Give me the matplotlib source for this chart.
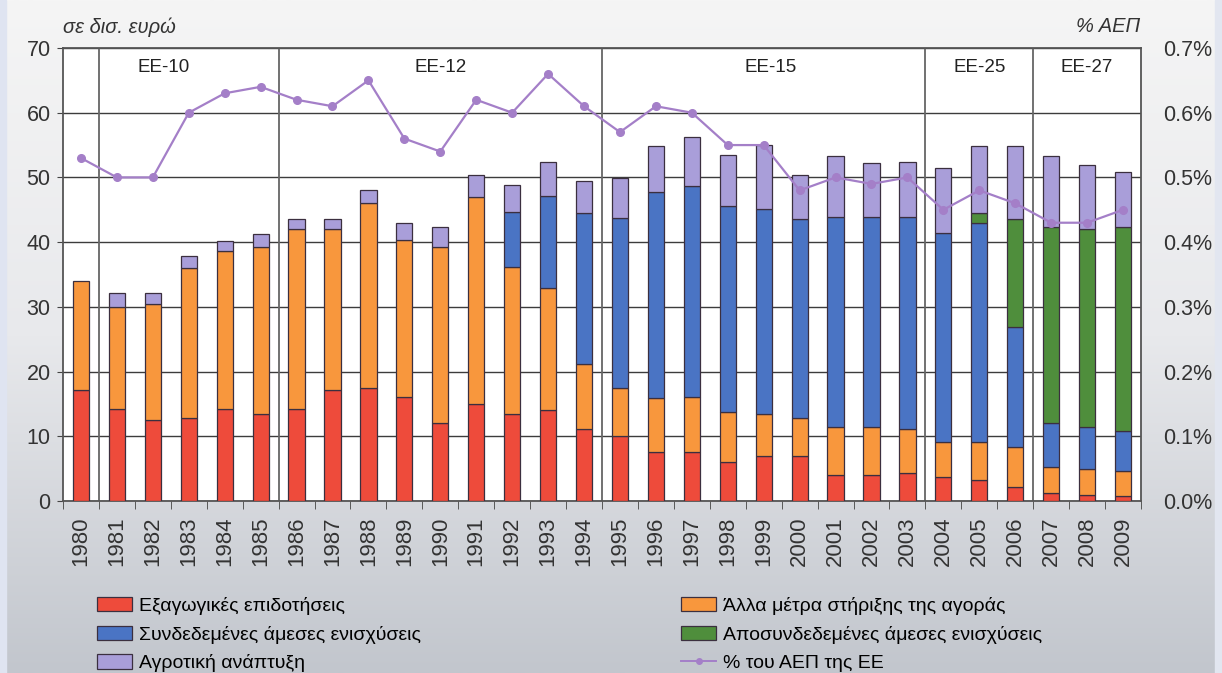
import numpy as np
import matplotlib
matplotlib.use('Agg')
import matplotlib.pyplot as plt
from matplotlib.patches import Patch
from matplotlib.lines import Line2D
from matplotlib.colors import LinearSegmentedColormap

plt.rcParams['font.family'] = ['Liberation Sans', 'DejaVu Sans']

# data (bn euro per segment)
years = list(range(1980, 2010))
export_subsidies = [17.2, 14.2, 12.5, 12.8, 14.2, 13.4, 14.2, 17.2, 17.4, 16.1,
                    12.1, 15.0, 13.5, 14.1, 11.1, 10.0, 7.6, 7.6, 6.1, 7.0,
                    7.0, 4.0, 4.0, 4.4, 3.7, 3.2, 2.2, 1.3, 1.0, 0.7]
other_market = [16.8, 15.8, 18.0, 23.2, 24.5, 25.9, 27.8, 24.8, 28.7, 24.2,
                27.1, 32.0, 22.7, 18.8, 10.1, 7.4, 8.3, 8.5, 7.6, 6.4,
                5.8, 7.5, 7.5, 6.7, 5.4, 5.9, 6.2, 3.9, 4.0, 3.9]
coupled_direct = [0, 0, 0, 0, 0, 0, 0, 0, 0, 0,
                  0, 0, 8.5, 14.2, 23.3, 26.4, 31.8, 32.5, 31.9, 31.7,
                  30.8, 32.4, 32.4, 32.8, 32.3, 33.9, 18.5, 6.9, 6.5, 6.2]
decoupled_direct = [0, 0, 0, 0, 0, 0, 0, 0, 0, 0,
                    0, 0, 0, 0, 0, 0, 0, 0, 0, 0,
                    0, 0, 0, 0, 0, 1.5, 16.7, 30.3, 30.5, 31.5]
rural_dev = [0, 2.1, 1.6, 1.9, 1.5, 1.9, 1.6, 1.6, 2.0, 2.7,
             3.2, 3.4, 4.1, 5.3, 5.0, 6.1, 7.2, 7.7, 7.8, 9.9,
             6.8, 9.4, 8.4, 8.5, 10.1, 10.4, 11.3, 10.9, 9.9, 8.6]
gdp_share = [0.53, 0.50, 0.50, 0.60, 0.63, 0.64, 0.62, 0.61, 0.65, 0.56,
             0.54, 0.62, 0.60, 0.66, 0.61, 0.57, 0.61, 0.60, 0.55, 0.55,
             0.48, 0.50, 0.49, 0.50, 0.45, 0.48, 0.46, 0.43, 0.43, 0.45]

# enlargement periods
periods = ['ΕΕ-10', 'ΕΕ-12', 'ΕΕ-15', 'ΕΕ-25', 'ΕΕ-27']
period_start = [1981, 1986, 1995, 2004, 2007]
label_pos = [2.3, 10.0, 19.2, 25.0, 28.0]

series = [
    (export_subsidies, '#ee4b3b', 'Εξαγωγικές επιδοτήσεις'),
    (other_market, '#f8973d', 'Άλλα μέτρα στήριξης της αγοράς'),
    (coupled_direct, '#4a74c4', 'Συνδεδεμένες άμεσες ενισχύσεις'),
    (decoupled_direct, '#4f8e3c', 'Αποσυνδεδεμένες άμεσες ενισχύσεις'),
    (rural_dev, '#a99ed9', 'Αγροτική ανάπτυξη'),
]
line_color = '#a47fc8'
edge = '#3b2f3f'

fig = plt.figure(figsize=(12.22, 6.73), dpi=100)

# background gradient
bg = fig.add_axes([0, 0, 1, 1], zorder=-10)
cmap = LinearSegmentedColormap.from_list('bg', ['#f5f5f5', '#e8e9ec', '#c2c6cd'])
bg.imshow(np.linspace(0, 1, 256).reshape(-1, 1), aspect='auto', cmap=cmap,
          extent=[0, 1, 0, 1])
bg.axvspan(0, 6 / 1222, color='#dfe4f1')
bg.axvspan(1215 / 1222, 1, color='#e2e6f0')
bg.set_xlim(0, 1)
bg.set_ylim(0, 1)
bg.axis('off')

ax = fig.add_axes([63 / 1222, 1 - 501 / 673, (1141 - 63) / 1222, (501 - 48) / 673])
ax.set_facecolor('white')
x = np.arange(len(years))
bottom = np.zeros(len(years))
for vals, col, lab in series:
    v = np.array(vals, dtype=float)
    m = v > 0
    ax.bar(x[m], v[m], bottom=bottom[m], width=0.45, color=col,
           edgecolor=edge, linewidth=0.9, zorder=3)
    bottom += v

ax.set_xlim(-0.5, len(years) - 0.5)
ax.set_ylim(0, 70)
ax.set_yticks(range(0, 71, 10))
ax.yaxis.grid(True, color='#3c3c3c', linewidth=1.0)
ax.set_axisbelow(True)
for yr in period_start:
    ax.axvline(years.index(yr) - 0.5, color='#666666', linewidth=1.3, zorder=2)
for lab, pos in zip(periods, label_pos):
    ax.text(pos, 67, lab, ha='center', va='center', fontsize=13.5, color='#222222')

ax.set_xticks(x)
ax.set_xticklabels([str(y) for y in years], rotation=90, fontsize=16, color='#333333')
ax.set_xticks(np.arange(-0.5, len(years)), minor=True)
ax.tick_params(axis='x', which='major', length=0, pad=11)
ax.tick_params(axis='x', which='minor', length=6, color='#444444', direction='out')
ax.tick_params(axis='y', length=4, color='#444444', labelsize=15.5, labelcolor='#333333', pad=5)
for s in ax.spines.values():
    s.set_color('#555555')
    s.set_linewidth(1.3)

ax2 = ax.twinx()
ax2.plot(x, gdp_share, color=line_color, linewidth=1.6, marker='o', markersize=5.5,
         zorder=5)
ax2.set_ylim(0, 0.70)
ax2.set_yticks(np.arange(0, 0.71, 0.1))
ax2.set_yticklabels([f'{t:.1f}%' for t in np.arange(0, 0.71, 0.1)])
ax2.tick_params(axis='y', length=0, labelsize=15.5, labelcolor='#333333', pad=16)
for s in ax2.spines.values():
    s.set_visible(False)

fig.text(63 / 1222, 1 - 27 / 673, 'σε δισ. ευρώ', style='italic', fontsize=14.5,
         ha='left', va='center', color='#333333')
fig.text(1140 / 1222, 1 - 27 / 673, '% ΑΕΠ', style='italic', fontsize=14.5,
         ha='right', va='center', color='#333333')

handles = [Patch(facecolor=c, edgecolor=edge, linewidth=0.9) for _, c, _ in series]
labels = [lab for _, _, lab in series]
line_h = Line2D([], [], color=line_color, marker='o', markersize=4, linewidth=1.4)
leg_kw = dict(frameon=False, loc='upper left', fontsize=14, borderpad=0,
              borderaxespad=0, handlelength=1.8, handleheight=0.75,
              handletextpad=0.35, labelspacing=0.55)
l1 = fig.legend([handles[0], handles[2], handles[4]], [labels[0], labels[2], labels[4]],
                bbox_to_anchor=(97 / 1222, 1 - 597 / 673), **leg_kw)
l2 = fig.legend([handles[1], handles[3], line_h], [labels[1], labels[3], '% του ΑΕΠ της ΕΕ'],
                bbox_to_anchor=(681 / 1222, 1 - 597 / 673), **leg_kw)

fig.savefig('out.png', dpi=100)
